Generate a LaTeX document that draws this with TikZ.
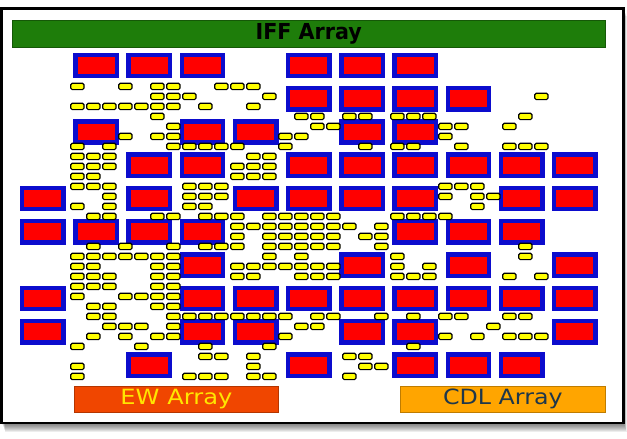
\documentclass[tikz,border=0pt]{standalone}
\usepackage{fontspec}
\setmainfont{DejaVu Sans}
\definecolor{bblue}{RGB}{12,12,205}
\definecolor{rred}{RGB}{255,0,0}
\definecolor{yel}{RGB}{255,255,0}
\definecolor{iffgreen}{RGB}{30,125,10}
\definecolor{ewred}{RGB}{240,70,0}
\definecolor{cdlorange}{RGB}{255,165,0}
\definecolor{cdltext}{RGB}{30,55,75}
\definecolor{ewtext}{RGB}{255,230,0}
\tikzset{
  bigbox/.style={fill=rred, draw=bblue, line width=4.4pt},
  ybox/.style={fill=yel, draw=black, line width=1.2pt, rounded corners=1.5pt},
  bar/.style={anchor=north west, inner sep=0pt, line width=0.8pt},
}
\begin{document}
\begin{tikzpicture}[x=1pt,y=-1pt]
\useasboundingbox (0,0) rectangle (627,439);
\fill[white] (0,0) rectangle (627,439);
% shadow
\foreach \i in {1,...,9}{
  \fill[black, opacity=0.07] ({1.5+0.4*\i},{8.5+0.8*\i}) rectangle ({623.5+0.35*\i},{423+\i});
}
% frame
\draw[line width=2.2pt, fill=white] (1.5,8.5) rectangle (623.5,423);
% top bar
\node[bar, draw=iffgreen!70!black, fill=iffgreen, minimum width=593.3pt, minimum height=26.7pt] (iffbar) at (11.7,20) {};
\node[font=\bfseries\fontsize{22}{24}\selectfont, text=black] (ifftext) at (iffbar.center) {\scalebox{0.94}[1]{IFF Array}};
% big boxes
\foreach \r/\cs in {0/{1,2,3,5,6,7},1/{5,6,7,8},2/{1,3,4,6,7},3/{2,3,5,6,7,8,9,10},4/{0,2,4,5,6,7,9,10},5/{0,1,2,3,7,8,9},6/{3,6,8,10},7/{0,3,4,5,6,7,8,9,10},8/{0,3,4,6,7,10},9/{2,5,7,8,9}}{
  \foreach \c in \cs {
    \path[bigbox] ({20+53.2*\c+2.2},{52.5+33.3*\r+2.2}) rectangle ++(41.3,21.3);
  }
}
% small yellow boxes
\foreach \j/\ks in {0/{0,3,5,6,9,10,11},1/{5,6,7,12,29},2/{0,1,2,3,4,5,6,8,11},3/{5,14,15,17,18,20,21,22,28},4/{6,15,16,23,24,27},5/{3,5,6,13,14,23},6/{0,2,6,7,8,9,10,13,18,20,21,24,27,28,29},7/{0,1,2,11,12},8/{0,1,2,10,11,12},9/{0,1,10,11,12},10/{0,1,2,7,8,9,23,24,25},11/{2,7,8,9,23,25,26},12/{0,2,7,8,25},13/{1,2,5,6,8,9,10,12,13,14,15,16,20,21,22,23},14/{10,11,12,13,14,15,16,17,19},15/{10,12,13,14,15,16,18,19},16/{1,3,6,8,9,10,12,13,14,15,16,19,28},17/{0,1,2,3,4,5,6,12,14,20,28},18/{0,1,5,6,10,11,12,13,14,15,16,20,22},19/{0,1,2,5,6,10,11,14,15,16,20,21,22,27,29},20/{0,1,2,5,6},21/{0,3,4,5,6},22/{1,2,5,6},23/{1,2,6,7,8,9,10,11,12,13,15,16,19,21,23,24,27,28},24/{2,3,4,6,14,15,26},25/{1,3,5,6,13,23,25,27,28,29},26/{0,4,8,12,21},27/{8,9,11,17,18},28/{0,11,18,19},29/{0,7,8,9,11,12,17}}{
  \foreach \k in \ks {
    \path[ybox] ({70.7+16*\k},{83.3+10*\j}) rectangle ++(13.3,6.3);
  }
}
% bottom bars
\node[bar, draw=ewred!75!black, fill=ewred, minimum width=204pt, minimum height=26.3pt] (ewbar) at (74,385.7) {};
\node[font=\fontsize{21}{24}\selectfont, text=ewtext] (ewtext) at (ewbar.center) {\scalebox{1.15}[1]{EW Array}};
\node[bar, draw=cdlorange!75!black, fill=cdlorange, minimum width=205pt, minimum height=26.3pt] (cdlbar) at (400,385.7) {};
\node[font=\fontsize{21}{24}\selectfont, text=cdltext] (cdltext) at (cdlbar.center) {\scalebox{1.13}[1]{CDL Array}};
\end{tikzpicture}
\end{document}
